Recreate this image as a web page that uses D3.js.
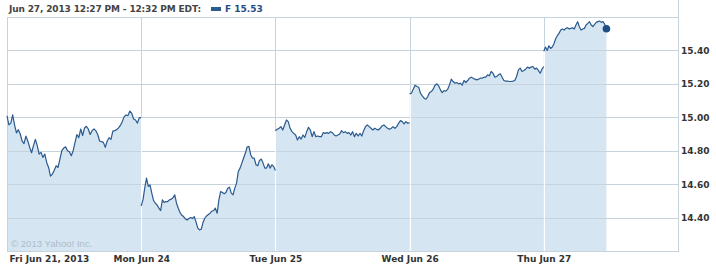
<!DOCTYPE html>
<html>
<head>
<meta charset="utf-8">
<script src="https://cdn.jsdelivr.net/npm/d3@7"></script>
<style>
  body { margin: 0; background: #fff; }
  svg { display: block; }
</style>
</head>
<body>
<div id="chart"></div>
<script>
// Intraday chart of F, five sessions, 5-minute quotes

let svgWidth = 716;
let svgHeight = 266;

// categories and tick labels
const dayLabels = ['Fri Jun 21, 2013', 'Mon Jun 24', 'Tue Jun 25', 'Wed Jun 26', 'Thu Jun 27'];
const yTicks = [14.40, 14.60, 14.80, 15.00, 15.20, 15.40];
// minutes covered by each session (Thu stops at 12:32 PM)
const sessionMinutes = [390, 390, 390, 390, 182];
const lastQuote = 15.53;

// prices, one array per session
const fri = [15.008, 14.955, 14.965, 15.014, 14.955, 14.907, 14.926, 14.900, 14.858, 14.843,
  14.887, 14.858, 14.820, 14.788, 14.830, 14.868, 14.830, 14.780, 14.790, 14.760,
  14.780, 14.730, 14.700, 14.648, 14.660, 14.683, 14.710, 14.700, 14.750, 14.800,
  14.816, 14.823, 14.800, 14.794, 14.770, 14.800, 14.850, 14.897, 14.878, 14.930,
  14.890, 14.936, 14.946, 14.930, 14.897, 14.920, 14.930, 14.920, 14.897, 14.858,
  14.854, 14.850, 14.820, 14.858, 14.878, 14.868, 14.917, 14.920, 14.926, 14.936,
  14.951, 14.975, 15.004, 15.014, 15.010, 15.037, 15.023, 14.990, 14.984, 14.965,
  14.998, 14.998];
const mon = [14.470, 14.506, 14.576, 14.636, 14.586, 14.596, 14.546, 14.502, 14.486, 14.476,
  14.456, 14.442, 14.506, 14.490, 14.496, 14.496, 14.506, 14.510, 14.518, 14.536,
  14.486, 14.456, 14.430, 14.414, 14.406, 14.392, 14.386, 14.394, 14.400, 14.394,
  14.406, 14.376, 14.338, 14.326, 14.330, 14.370, 14.396, 14.410, 14.418, 14.426,
  14.438, 14.442, 14.456, 14.426, 14.506, 14.556, 14.550, 14.542, 14.550, 14.576,
  14.582, 14.546, 14.536, 14.576, 14.606, 14.676, 14.696, 14.726, 14.756, 14.786,
  14.822, 14.826, 14.776, 14.756, 14.756, 14.716, 14.710, 14.742, 14.750, 14.726,
  14.696, 14.696, 14.722, 14.696, 14.716, 14.706, 14.682];
const tue = [14.920, 14.928, 14.934, 14.944, 14.924, 14.954, 14.984, 14.974, 14.934, 14.914,
  14.904, 14.894, 14.864, 14.884, 14.870, 14.894, 14.880, 14.914, 14.940, 14.924,
  14.884, 14.914, 14.884, 14.888, 14.884, 14.884, 14.908, 14.904, 14.908, 14.904,
  14.914, 14.908, 14.894, 14.888, 14.894, 14.900, 14.920, 14.908, 14.914, 14.904,
  14.908, 14.894, 14.914, 14.884, 14.904, 14.888, 14.904, 14.888, 14.920, 14.944,
  14.954, 14.944, 14.934, 14.924, 14.934, 14.928, 14.924, 14.934, 14.948, 14.954,
  14.944, 14.934, 14.928, 14.934, 14.944, 14.934, 14.944, 14.964, 14.980, 14.974,
  14.960, 14.974, 14.964, 14.968];
const wed = [15.140, 15.144, 15.168, 15.192, 15.184, 15.180, 15.144, 15.128, 15.114, 15.108,
  15.124, 15.148, 15.154, 15.168, 15.192, 15.200, 15.188, 15.164, 15.148, 15.160,
  15.156, 15.168, 15.194, 15.228, 15.214, 15.204, 15.208, 15.200, 15.204, 15.192,
  15.220, 15.208, 15.220, 15.234, 15.240, 15.234, 15.228, 15.224, 15.228, 15.234,
  15.234, 15.240, 15.240, 15.254, 15.248, 15.274, 15.264, 15.240, 15.244, 15.254,
  15.260, 15.240, 15.220, 15.216, 15.216, 15.214, 15.214, 15.216, 15.220, 15.244,
  15.284, 15.294, 15.274, 15.280, 15.288, 15.300, 15.294, 15.300, 15.304, 15.288,
  15.294, 15.280, 15.264, 15.288, 15.304];
const thu = [15.395, 15.420, 15.400, 15.428, 15.412, 15.420, 15.440, 15.470, 15.488, 15.502,
  15.522, 15.528, 15.522, 15.532, 15.536, 15.528, 15.532, 15.536, 15.528, 15.552,
  15.572, 15.542, 15.522, 15.528, 15.532, 15.552, 15.562, 15.572, 15.552, 15.542,
  15.556, 15.568, 15.572, 15.576, 15.568, 15.572, 15.556, 15.532];
const days = [fri, mon, tue, wed, thu];

// plot box
let plotLeft = 7, plotRight = 678, plotTop = 17, plotBottom = 251;

let svg = d3.select('#chart')
  .append('svg')
  .attr('width', svgWidth)
  .attr('height', svgHeight)
  .style('font-family', '"DejaVu Sans", sans-serif');

let x = d3.scaleLinear()
  .domain([0, 390 * 5])
  .range([plotLeft, plotRight]);

let y = d3.scaleLinear()
  .domain([14.20, 15.60])
  .range([plotBottom, plotTop]);

// turn each session into {t, v} points, spread evenly across its minutes
let sessions = days.map((vals, i) => vals.map((v, j) => ({
  t: i * 390 + j / (vals.length - 1) * sessionMinutes[i],
  v: v
})));

let gridColor = '#c6d3dd';

// area fills
let area = d3.area()
  .x(d => x(d.t))
  .y0(plotBottom)
  .y1(d => y(d.v));

svg.append('g').selectAll('path')
  .data(sessions)
  .enter()
  .append('path')
  .attr('d', area)
  .attr('fill', '#d5e5f1');

// horizontal grid
svg.append('g').selectAll('line')
  .data(yTicks)
  .enter()
  .append('line')
  .attr('x1', plotLeft)
  .attr('x2', plotRight)
  .attr('y1', d => Math.round(y(d)) + 0.5)
  .attr('y2', d => Math.round(y(d)) + 0.5)
  .attr('stroke', gridColor);

// box
svg.append('line').attr('x1', plotLeft).attr('x2', plotRight).attr('y1', plotTop + 0.5).attr('y2', plotTop + 0.5).attr('stroke', gridColor);
svg.append('line').attr('x1', plotLeft).attr('x2', plotRight).attr('y1', plotBottom + 0.5).attr('y2', plotBottom + 0.5).attr('stroke', gridColor);
svg.append('line').attr('x1', plotRight + 0.5).attr('x2', plotRight + 0.5).attr('y1', 0).attr('y2', plotBottom + 1).attr('stroke', gridColor);

// vertical day separators
let dayStarts = d3.range(5).map(i => i * 390);
svg.append('g').selectAll('line')
  .data(dayStarts)
  .enter()
  .append('line')
  .attr('x1', d => Math.round(x(d)) + 0.5)
  .attr('x2', d => Math.round(x(d)) + 0.5)
  .attr('y1', plotTop)
  .attr('y2', plotBottom)
  .attr('stroke', gridColor);

// white break in the fill between sessions
svg.append('g').selectAll('line')
  .data(d3.range(1, 5))
  .enter()
  .append('line')
  .attr('x1', i => Math.round(x(dayStarts[i])) + 0.5)
  .attr('x2', i => Math.round(x(dayStarts[i])) + 0.5)
  .attr('y1', i => y(Math.max(days[i - 1][days[i - 1].length - 1], days[i][0])))
  .attr('y2', plotBottom)
  .attr('stroke', '#ffffff');

// copyright
svg.append('text')
  .attr('x', 11)
  .attr('y', 246.5)
  .style('font-family', '"Liberation Sans", Arial, sans-serif')
  .style('font-size', '9.6px')
  .attr('fill', '#adbccb')
  .text('\u00a9 2013 Yahoo! Inc.');

// price line, broken between sessions
let line = d3.line()
  .x(d => x(d.t))
  .y(d => y(d.v));

svg.append('g').selectAll('path')
  .data(sessions)
  .enter()
  .append('path')
  .attr('d', line)
  .attr('fill', 'none')
  .attr('stroke', '#2a5a8e')
  .attr('stroke-width', 1.2)
  .attr('stroke-linejoin', 'round');

// last quote marker
let last = sessions[4][sessions[4].length - 1];
svg.append('circle')
  .attr('cx', x(last.t))
  .attr('cy', y(lastQuote))
  .attr('r', 3.8)
  .attr('fill', '#1f4e84');

// y axis on the right
let yAxis = svg.append('g')
  .attr('transform', `translate(${plotRight}, 0)`)
  .call(d3.axisRight(y).tickValues(yTicks).tickSize(0).tickPadding(3).tickFormat(d3.format('.2f')));
yAxis.select('.domain').remove();
yAxis.selectAll('text')
  .attr('fill', '#333')
  .style('font-size', '9px')
  .style('font-weight', 'bold')
  .style('font-family', '"DejaVu Sans", sans-serif');

// x axis labels
let xAxis = svg.append('g')
  .attr('transform', `translate(0, ${plotBottom})`)
  .call(d3.axisBottom(x).tickValues(dayStarts).tickSize(0).tickPadding(4).tickFormat((d, i) => dayLabels[i]));
xAxis.select('.domain').remove();
xAxis.selectAll('text')
  .attr('fill', '#333')
  .attr('dy', '0.8em')
  .style('font-size', '9px')
  .style('font-weight', 'bold')
  .style('font-family', '"DejaVu Sans", sans-serif');
xAxis.selectAll('text').filter((d, i) => i === 0)
  .attr('text-anchor', 'start')
  .attr('x', 2);

// header and legend
svg.append('text')
  .attr('x', 9)
  .attr('y', 11.5)
  .attr('fill', '#444')
  .style('font-size', '9px')
  .style('font-weight', 'bold')
  .attr('textLength', 192)
  .text('Jun 27, 2013 12:27 PM - 12:32 PM EDT:');

svg.append('rect')
  .attr('x', 211)
  .attr('y', 7)
  .attr('width', 10)
  .attr('height', 4)
  .attr('fill', '#2a5a8e');

svg.append('text')
  .attr('x', 225)
  .attr('y', 11.5)
  .attr('fill', '#1f4e84')
  .style('font-size', '9px')
  .style('font-weight', 'bold')
  .text('F ' + lastQuote.toFixed(2));
</script>
</body>
</html>
